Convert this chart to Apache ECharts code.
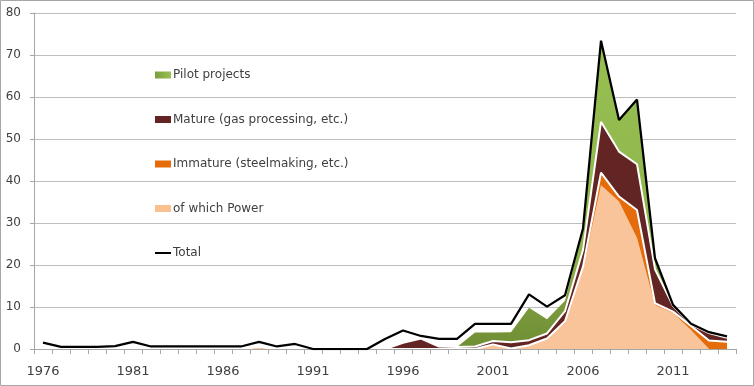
<!DOCTYPE html>
<html>
<head>
<meta charset="utf-8">
<script src="https://cdn.jsdelivr.net/npm/echarts@6/dist/echarts.min.js"></script>
<style>
html,body{margin:0;padding:0;background:#fff;}
#chart{width:754px;height:386px;}
</style>
</head>
<body>
<div id="chart"></div>
<script>
const years = ['1976','1977','1978','1979','1980','1981','1982','1983','1984','1985','1986','1987','1988','1989','1990','1991','1992','1993','1994','1995','1996','1997','1998','1999','2000','2001','2002','2003','2004','2005','2006','2007','2008','2009','2010','2011','2012','2013','2014'];
const yTicks = [0,10,20,30,40,50,60,70,80];
const power    = [0,0,0,0,0,0,0,0,0,0,0,0,0.6,0,0,0,0,0,0,0,0,0,0,0,0,1.1,0.1,0.9,2.5,6.2,19,39,35.1,26.4,10.4,8.6,4.5,0,0];
const immature = [0,0,0,0,0,0,0,0,0,0,0,0,0,0,0,0,0,0,0,0,0,0,0,0,0,0,0,0,0,0.4,0.6,3,1.2,6.7,0.5,0.3,1,2,1.7];
const mature   = [0.2,0,0,0,0,0.3,0,0,0,0,0,0,0,0,0.4,0,0,0,0,0,1.5,2.5,0.6,0.5,0.6,0.8,1.5,1.2,1.2,2.4,4,12.1,10.7,10.9,8.1,1.4,0.3,1.8,1.0];
const pilot    = [0,0,0,0,0,0,0,0,0,0,0,0,0,0,0,0,0,0,0,0,0,0,0,0,3.3,2.0,2.4,7.7,3.4,2.5,4.7,19.3,7.5,15.4,2.6,0.2,0,0,0];
const total    = [1.5,0.5,0.5,0.5,0.7,1.7,0.6,0.6,0.6,0.6,0.6,0.6,1.7,0.6,1.2,0,0,0,0,2.4,4.4,3.1,2.4,2.4,6,6,6,13,10.1,12.8,28.7,73.4,54.5,59.4,21.6,10.5,6,4,3];

const names = {
  pilot: 'Pilot projects',
  mature: 'Mature (gas processing, etc.)',
  immature: 'Immature (steelmaking, etc.)',
  power: 'of which Power',
  total: 'Total'
};

const FONT = 'DejaVu Sans';
const green = new echarts.graphic.LinearGradient(0, 0, 0, 1, [
  {offset: 0, color: '#97BF52'},
  {offset: 0.7, color: '#8DB54A'},
  {offset: 0.86, color: '#7A9A3C'},
  {offset: 1, color: '#708E34'}
]);
const greenSwatch = new echarts.graphic.LinearGradient(0, 0, 1, 0, [
  {offset: 0, color: '#7C9E3E'},
  {offset: 1, color: '#98C054'}
]);

const chart = echarts.init(document.getElementById('chart'));
chart.setOption({
  animation: false,
  backgroundColor: '#fff',
  grid: {left: 34, right: 18, top: 13, bottom: 37, containLabel: false},
  graphic: [{
    type: 'rect', z: 100, silent: true,
    shape: {x: 0.5, y: 0.5, width: 753, height: 385},
    style: {fill: 'none', stroke: '#A6A6A6', lineWidth: 1}
  }],
  legend: [{
    orient: 'vertical', left: 150, top: 63, itemGap: 30.5,
    itemWidth: 16, itemHeight: 7, icon: 'rect',
    textStyle: {fontFamily: FONT, fontSize: 12, color: '#404040', lineHeight: 14, padding: [0,0,0,-3]},
    data: [
      {name: names.pilot, itemStyle: {color: greenSwatch, borderWidth: 0}},
      {name: names.mature, itemStyle: {color: '#632523', borderWidth: 0}},
      {name: names.immature, itemStyle: {color: '#E46C0A', borderWidth: 0}},
      {name: names.power, itemStyle: {color: '#FAC090', borderWidth: 0}}
    ],
    selectedMode: false
  }, {
    orient: 'vertical', left: 150, top: 241,
    itemWidth: 16, itemHeight: 2, icon: 'rect',
    textStyle: {fontFamily: FONT, fontSize: 12, color: '#404040', lineHeight: 14, padding: [0,0,0,-3]},
    data: [{name: names.total, itemStyle: {color: '#000', borderWidth: 0}}],
    selectedMode: false
  }],
  xAxis: {
    type: 'category', data: years, boundaryGap: true, z: 5,
    axisLine: {show: true, lineStyle: {color: '#A6A6A6', width: 1}},
    axisTick: {show: true, interval: 0, length: 5, lineStyle: {color: '#A6A6A6'}},
    axisLabel: {interval: 4, margin: 16, fontFamily: FONT, fontSize: 13, color: '#404040'},
    splitLine: {show: false}
  },
  yAxis: {
    type: 'value', min: yTicks[0], max: yTicks[yTicks.length - 1], interval: yTicks[1] - yTicks[0],
    axisLine: {show: true, lineStyle: {color: '#A6A6A6', width: 1}},
    axisTick: {show: true, length: 4, lineStyle: {color: '#A6A6A6'}},
    axisLabel: {margin: 13, fontFamily: FONT, fontSize: 12, color: '#404040'},
    splitLine: {show: true, lineStyle: {color: '#BDBDBD', width: 1}}
  },
  series: [
    {name: names.power, type: 'line', stack: 'cap', data: power, symbol: 'none', z: 2,
     color: '#FAC090', lineStyle: {width: 0, color: '#FAC090'}, areaStyle: {color: '#F9C49A', opacity: 1}},
    {name: names.immature, type: 'line', stack: 'cap', data: immature, symbol: 'none', z: 4,
     color: '#E46C0A', lineStyle: {width: 2, color: '#FFFFFF'}, areaStyle: {color: '#E46C0A', opacity: 1}},
    {name: names.mature, type: 'line', stack: 'cap', data: mature, symbol: 'none', z: 3,
     color: '#632523', lineStyle: {width: 2, color: '#FFFFFF'}, areaStyle: {color: '#632523', opacity: 1}},
    {name: names.pilot, type: 'line', stack: 'cap', data: pilot, symbol: 'none', z: 2,
     color: '#8DB54A', lineStyle: {width: 0, color: '#8DB54A'}, areaStyle: {color: green, opacity: 1}},
    {name: names.total, type: 'line', data: total, symbol: 'none', z: 6,
     color: '#000', lineStyle: {width: 2.25, color: '#000'}}
  ]
});
</script>
</body>
</html>
